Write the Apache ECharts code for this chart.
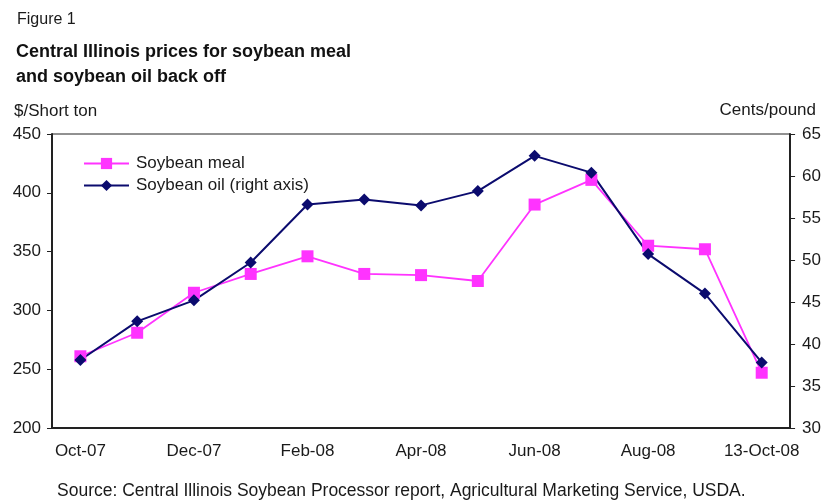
<!DOCTYPE html>
<html>
<head>
<meta charset="utf-8">
<script src="https://cdn.jsdelivr.net/npm/echarts@6/dist/echarts.min.js"></script>
<style>
  html, body { margin: 0; padding: 0; background: #fff; }
  #chart { width: 824px; height: 502px; }
</style>
</head>
<body>
<div id="chart"></div>
<script>
// monthly points, only every other one gets a label
const months = ['Oct-07', 'Nov-07', 'Dec-07', 'Jan-08', 'Feb-08', 'Mar-08', 'Apr-08',
  'May-08', 'Jun-08', 'Jul-08', 'Aug-08', 'Sep-08', '13-Oct-08']
// $/short ton
const soyMeal = [261, 281, 315, 331, 346, 331, 330, 325, 390, 411, 355, 352, 247]
// cents/pound (right axis)
const soyOil = [38.1, 42.7, 45.2, 49.7, 56.6, 57.2, 56.5, 58.2, 62.4, 60.4, 50.7, 46.0, 37.8]

const font = 'Liberation Sans, Arial, sans-serif'
const txt = '#1a1a1a'
const myChart = echarts.init(document.getElementById('chart'))

const option = {
  animation: false,
  title: [
    { text: 'Figure 1', left: 12, top: 7, textStyle: { fontFamily: font, fontSize: 16, fontWeight: 'normal', color: txt } },
    {
      text: 'Central Illinois prices for soybean meal\nand soybean oil back off',
      left: 11, top: 35,
      textStyle: { fontFamily: font, fontSize: 18, fontWeight: 'bold', color: '#111', lineHeight: 25 }
    },
    { text: '$/Short ton', left: 9, top: 98, textStyle: { fontFamily: font, fontSize: 17, fontWeight: 'normal', color: txt } },
    { text: 'Cents/pound', right: 3, top: 97, textStyle: { fontFamily: font, fontSize: 17, fontWeight: 'normal', color: txt } },
    {
      text: 'Source: Central Illinois Soybean Processor report, Agricultural Marketing Service, USDA.',
      left: 52, top: 477,
      textStyle: { fontFamily: font, fontSize: 17.5, fontWeight: 'normal', color: txt }
    }
  ],
  legend: {
    orient: 'vertical',
    left: 78,
    top: 150,
    itemWidth: 45,
    itemHeight: 14,
    itemGap: 5,
    textStyle: { fontFamily: font, fontSize: 17, color: txt, padding: [0, 0, 0, 2] },
    data: ['Soybean meal', 'Soybean oil (right axis)']
  },
  grid: {
    left: 52,
    right: 32,
    top: 134,
    bottom: 74,
    show: true,
    borderColor: '#222',
    borderWidth: 1
  },
  xAxis: {
    type: 'category',
    data: months,
    boundaryGap: true,
    axisLine: { lineStyle: { color: '#222', width: 2 } },
    axisTick: { interval: 0, length: 5, lineStyle: { color: '#222', width: 1.5 } },
    axisLabel: { interval: 1, margin: 15, fontFamily: font, fontSize: 17, color: txt }
  },
  yAxis: [
    {
      type: 'value',
      min: 200,
      max: 450,
      interval: 50,
      splitLine: { show: false },
      axisLine: { show: true, lineStyle: { color: '#222', width: 2 } },
      axisTick: { show: true, length: 5, lineStyle: { color: '#222' } },
      axisLabel: { margin: 11, fontFamily: font, fontSize: 17, color: txt }
    },
    {
      type: 'value',
      position: 'right',
      min: 30,
      max: 65,
      interval: 5,
      splitLine: { show: false },
      axisLine: { show: true, lineStyle: { color: '#222', width: 2 } },
      axisTick: { show: true, length: 5, lineStyle: { color: '#222' } },
      axisLabel: { margin: 12, fontFamily: font, fontSize: 17, color: txt }
    }
  ],
  series: [
    {
      name: 'Soybean meal',
      type: 'line',
      yAxisIndex: 0,
      data: soyMeal,
      symbol: 'rect',
      symbolSize: 12,
      itemStyle: { color: '#ff33ff' },
      lineStyle: { color: '#ff33ff', width: 1.8 }
    },
    {
      name: 'Soybean oil (right axis)',
      type: 'line',
      yAxisIndex: 1,
      data: soyOil,
      symbol: 'diamond',
      symbolSize: 12,
      itemStyle: { color: '#0b0b6e' },
      lineStyle: { color: '#0b0b6e', width: 2 }
    }
  ]
}

myChart.setOption(option)
</script>
</body>
</html>
